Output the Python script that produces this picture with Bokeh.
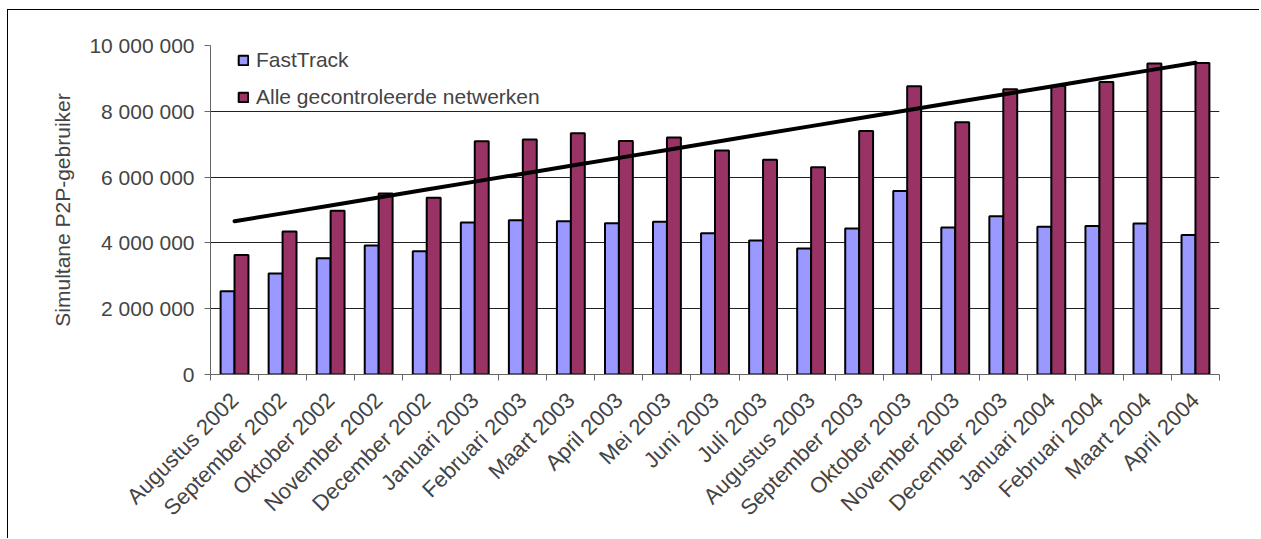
import math
import numpy as np
from bokeh.plotting import figure
from bokeh.models import ColumnDataSource, Range1d, FixedTicker, Legend, LegendItem
from bokeh.transform import dodge
from bokeh.embed import file_html
from bokeh.resources import INLINE

# Maandelijkse gelijktijdige P2P-gebruikers
months = ["Augustus 2002", "September 2002", "Oktober 2002", "November 2002",
          "December 2002", "Januari 2003", "Februari 2003", "Maart 2003",
          "April 2003", "Mei 2003", "Juni 2003", "Juli 2003", "Augustus 2003",
          "September 2003", "Oktober 2003", "November 2003", "December 2003",
          "Januari 2004", "Februari 2004", "Maart 2004", "April 2004"]
fasttrack = [2530000, 3070000, 3530000, 3920000, 3750000, 4620000, 4690000,
             4660000, 4600000, 4640000, 4290000, 4070000, 3830000, 4440000,
             5580000, 4470000, 4810000, 4490000, 4510000, 4590000, 4240000]
alle = [3630000, 4350000, 4980000, 5500000, 5370000, 7090000, 7140000,
        7330000, 7100000, 7200000, 6810000, 6530000, 6300000, 7400000,
        8760000, 7670000, 8670000, 8770000, 8890000, 9450000, 9470000]
y_ticks = [0, 2000000, 4000000, 6000000, 8000000, 10000000]
y_tick_labels = ["0", "2 000 000", "4 000 000", "6 000 000", "8 000 000", "10 000 000"]

FONT = "Liberation Sans"
BLUE = "#9999FF"
PLUM = "#993366"

n = len(months)
pos = np.arange(n) + 0.5
src = ColumnDataSource(dict(pos=pos, fasttrack=fasttrack, alle=alle))

# lineaire trend over alle gecontroleerde netwerken
slope, intercept = np.polyfit(np.arange(n), np.array(alle, dtype=float), 1)
trend = intercept + slope * np.arange(n)

# kader links en boven als schaduwlijn van het element; de grafiek schuift mee via margin
p = figure(width=1252, height=529, x_range=Range1d(0, n), y_range=Range1d(0, 10000000),
           output_backend="svg", toolbar_location=None,
           min_border_left=202, min_border_right=41, min_border_top=35, min_border_bottom=165,
           background_fill_color="white", border_fill_color="white", outline_line_color=None,
           margin=(10, 0, 0, 8),
           styles={"box-shadow": "-1px -1px 0 0 black"})

bw = 0.29
r1 = p.vbar(x=dodge("pos", -bw / 2, range=p.x_range), top="fasttrack", width=bw, bottom=0,
            source=src, fill_color=BLUE, line_color="black", line_width=2)
r2 = p.vbar(x=dodge("pos", bw / 2, range=p.x_range), top="alle", width=bw, bottom=0,
            source=src, fill_color=PLUM, line_color="black", line_width=2)
p.line(pos, trend, line_color="black", line_width=4, line_cap="round")

# y-as
p.yaxis.ticker = FixedTicker(ticks=y_ticks, minor_ticks=[])
p.yaxis.major_label_overrides = {t: s for t, s in zip(y_ticks, y_tick_labels)}
p.yaxis.axis_label = "Simultane P2P-gebruiker"
p.yaxis.axis_label_text_font = FONT
p.yaxis.axis_label_text_font_size = "21px"
p.yaxis.axis_label_text_font_style = "normal"
p.yaxis.axis_label_standoff = 12
p.yaxis.major_label_text_font = FONT
p.yaxis.major_label_text_font_size = "21px"
p.yaxis.major_label_standoff = 10
p.yaxis.major_tick_in = 0
p.yaxis.major_tick_out = 6
p.yaxis.axis_line_color = "#666666"
p.yaxis.major_tick_line_color = "#666666"

# x-as: labels in het midden, streepjes op de grenzen
p.xaxis.ticker = FixedTicker(ticks=list(pos), minor_ticks=list(range(n + 1)))
p.xaxis.major_label_overrides = {float(x): m for x, m in zip(pos, months)}
p.xaxis.major_label_orientation = math.pi / 4
p.xaxis.major_label_text_font = FONT
p.xaxis.major_label_text_font_size = "22px"
p.xaxis.major_label_standoff = 16
p.xaxis.major_tick_line_color = None
p.xaxis.minor_tick_in = 0
p.xaxis.minor_tick_out = 6
p.xaxis.minor_tick_line_color = "#666666"
p.xaxis.axis_line_color = "#666666"

p.xgrid.grid_line_color = None
p.ygrid.grid_line_color = "#222222"
p.ygrid.grid_line_width = 1

legend = Legend(items=[LegendItem(label="FastTrack", renderers=[r1]),
                       LegendItem(label="Alle gecontroleerde netwerken", renderers=[r2])],
                location=(27, 265), orientation="vertical",
                label_text_font=FONT, label_text_font_size="21px",
                glyph_width=12, glyph_height=12, label_height=20, label_standoff=7,
                spacing=13, padding=8, margin=0,
                border_line_color=None, background_fill_color="white", background_fill_alpha=1)
p.add_layout(legend, "center")

open("out.html", "w").write(file_html(p, INLINE))
